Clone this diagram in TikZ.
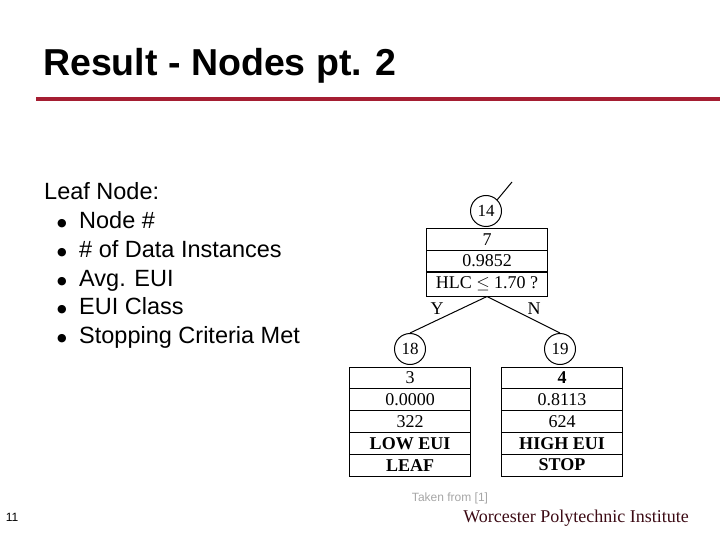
\documentclass[tikz,border=0pt]{standalone}
\usepackage{fontspec}
\setmainfont{Liberation Serif}
\setsansfont{Liberation Sans}
\newfontfamily\dejavu{DejaVu Sans}
\begin{document}
\begin{tikzpicture}[x=1pt,y=-1pt,
  circ/.style={circle,draw,line width=1pt,minimum size=31pt,inner sep=0pt,font=\fontsize{17}{17}\selectfont},
  cell/.style={draw,line width=1pt,minimum width=121pt,minimum height=21.8pt,inner sep=0pt,font=\fontsize{18}{18}\selectfont},
  edge/.style={line width=1pt},
  lbl/.style={font=\fontsize{18}{18}\selectfont},
  bul/.style={font=\dejavu\fontsize{11}{11}\selectfont,inner sep=0pt,anchor=base},
  item/.style={font=\sffamily\fontsize{23.5}{23.5}\selectfont,anchor=base west,inner sep=0pt}]
\useasboundingbox (0,0) rectangle (720,540);
\node[anchor=base west,font=\sffamily\bfseries\fontsize{37.5}{37.5}\selectfont,inner sep=0pt] (title) at (43,76) {Result - Nodes pt. 2};
\draw[line width=4pt,color={rgb,255:red,165;green,30;blue,50}] (36,99) -- (720,99);
\node[item] (l0) at (44,200) {Leaf Node:};
\foreach \t [count=\i] in {Node \#,\# of Data Instances,Avg. EUI,EUI Class,Stopping Criteria Met}{
  \node[bul] (b\i x) at (62,{198+28.7*\i}) {●};
  \node[item] (l\i) at (79,{200+28.7*\i}) {\t};}
% root
\node[circ] (n14) at (486,211) {14};
\coordinate (top) at (512,182);
\draw[edge] (n14.north east) -- (top);
\node[cell] (r1) at (487,239.5) {7};
\node[cell] (r2) at (487,261) {0.9852};
\node[cell,minimum height=24pt] (r3) at (487,284) {HLC $\leq$ 1.70 ?};
\node[circ] (n18) at (410,349) {18};
\node[circ] (n19) at (560,349) {19};
\draw[edge] (r3.south) -- (n18.north);
\draw[edge] (r3.south) -- (n19.north);
\node[lbl] (y) at (437,309) {Y};
\node[lbl] (n) at (534,309) {N};
\foreach \t [count=\i] in {3,0.0000,322,\textbf{LOW EUI},\textbf{LEAF}}
  \node[cell] (a\i) at (410,{367+10.9+21.8*(\i-1)}) {\t};
\foreach \t [count=\i] in {\textbf{4},0.8113,624,\textbf{HIGH EUI},\textbf{STOP}}
  \node[cell] (b\i) at (562,{367+10.9+21.8*(\i-1)}) {\t};
\node[font=\sffamily\fontsize{12}{12}\selectfont,text=gray!70] (src) at (450,498) {Taken from [1]};
\node[font=\sffamily\fontsize{12}{12}\selectfont] (pg) at (12,517) {11};
\node[font=\fontsize{18}{18}\selectfont,text={rgb,255:red,60;green,10;blue,20}] (wpi) at (576,518) {Worcester Polytechnic Institute};
\end{tikzpicture}
\end{document}
